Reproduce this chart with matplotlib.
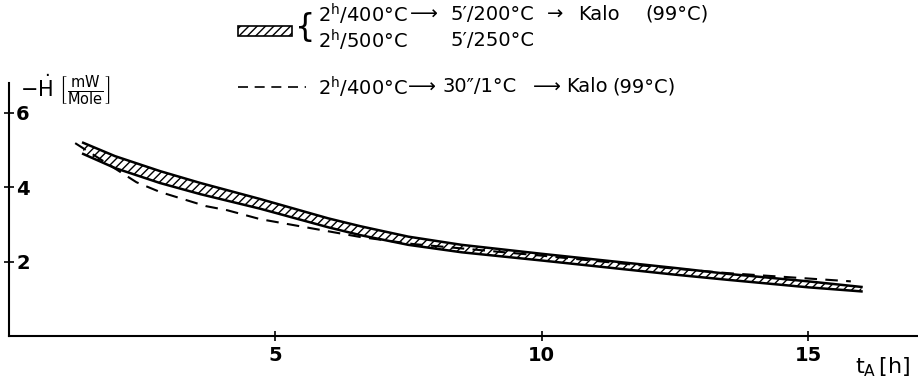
import numpy as np
import matplotlib.pyplot as plt
from matplotlib.patches import Rectangle
from matplotlib.lines import Line2D

# Kalorimeter-Kurven: -H' [mW/Mole] gegen Anlasszeit t_A [h]
# Band (2h/400C bzw. 2h/500C -> 5'/200C bzw. 5'/250C): Mitte und Halbbreite
t_band = [1.4, 2.0, 2.84, 3.6, 4.72, 6.0, 6.6, 7.5, 8.5, 10.0, 12.5, 13.5, 15.0, 16.0]
h_band = [5.05, 4.68, 4.28, 3.97, 3.56, 3.05, 2.84, 2.57, 2.36, 2.13, 1.75, 1.60, 1.40, 1.27]
w_band = [0.15, 0.16, 0.16, 0.15, 0.13, 0.12, 0.12, 0.11, 0.10, 0.09, 0.09, 0.08, 0.08, 0.06]

# gestrichelte Kurve: 2h/400C -> 30"/1C -> Kalo
t_dash = [1.25, 2.4, 2.84, 3.7, 4.1, 4.72, 6.6, 7.6, 10.0, 12.5, 13.5, 15.8]
h_dash = [5.19, 4.14, 3.88, 3.50, 3.39, 3.15, 2.67, 2.48, 2.17, 1.82, 1.70, 1.48]

xticks = [5, 10, 15]
yticks = [2, 4, 6]

t_band = np.array(t_band)
h_band = np.array(h_band)
w_band = np.array(w_band)

W, H = 918, 385
fig = plt.figure(figsize=(W / 100, H / 100), dpi=100)
ax = fig.add_axes([0.0093, 0.126, 0.9907, 0.658])


def px(x, y):
    # Pixel (von oben links) -> Figurkoordinaten
    return x / W, 1 - y / H


# Band mit Schraffur
ax.fill_between(t_band, h_band - w_band, h_band + w_band, facecolor='white',
                edgecolor='black', hatch='////', linewidth=0)
ax.plot(t_band, h_band + w_band, color='black', lw=1.8)
ax.plot(t_band, h_band - w_band, color='black', lw=1.8)

ax.plot(t_dash, h_dash, color='black', lw=1.5, linestyle=(0, (6, 4)))

ax.set_xlim(0, 17.06)
ax.set_ylim(0, 6.8)
ax.spines['top'].set_visible(False)
ax.spines['right'].set_visible(False)
ax.spines['left'].set_linewidth(1.5)
ax.spines['bottom'].set_linewidth(1.5)

ax.set_xticks(xticks)
ax.set_yticks(yticks)
ax.tick_params(direction='inout', length=7, width=1.2, labelsize=14)
ax.tick_params(axis='y', pad=-9)
for lab in ax.get_yticklabels():
    lab.set_horizontalalignment('left')
    lab.set_fontweight('bold')
for lab in ax.get_xticklabels():
    lab.set_fontweight('bold')

# Achsenbeschriftungen
fig.text(*px(20, 90), r'$-\dot{\mathrm{H}}\ \left[\frac{\mathrm{mW}}{\mathrm{Mole}}\right]$',
         fontsize=15, va='center', ha='left')
fig.text(*px(855, 367), r'$\mathrm{t_A}\,[\mathrm{h}]$', fontsize=16, ha='left', va='center')

# Legende
fs = 14
x0, y0 = px(238, 36)
x1, y1 = px(292, 26)
fig.add_artist(Rectangle((x0, y0), x1 - x0, y1 - y0, transform=fig.transFigure,
                         facecolor='white', edgecolor='black', hatch='////', lw=1.2))
fig.text(*px(295, 27), '{', fontsize=23, va='center', ha='left')

row1 = [(318, '2$^{\\mathrm{h}}$/400°C'), (410, '⟶'), (450, "5′/200°C"),
        (547, '→'), (578, 'Kalo'), (645, '(99°C)')]
row2 = [(318, '2$^{\\mathrm{h}}$/500°C'), (450, "5′/250°C")]
row3 = [(318, '2$^{\\mathrm{h}}$/400°C'), (408, '⟶'), (442, '30″/1°C'),
        (533, '⟶'), (566, 'Kalo'), (612, '(99°C)')]
for yy, row in [(14, row1), (40, row2), (87, row3)]:
    for xx, s in row:
        fig.text(*px(xx, yy), s, fontsize=fs, va='center', ha='left')

lx0, ly = px(238, 87)
lx1, _ = px(306, 87)
fig.add_artist(Line2D([lx0, lx1], [ly, ly], transform=fig.transFigure,
                      color='black', lw=1.2, linestyle=(0, (6, 4))))

fig.savefig('out.png', dpi=100)
